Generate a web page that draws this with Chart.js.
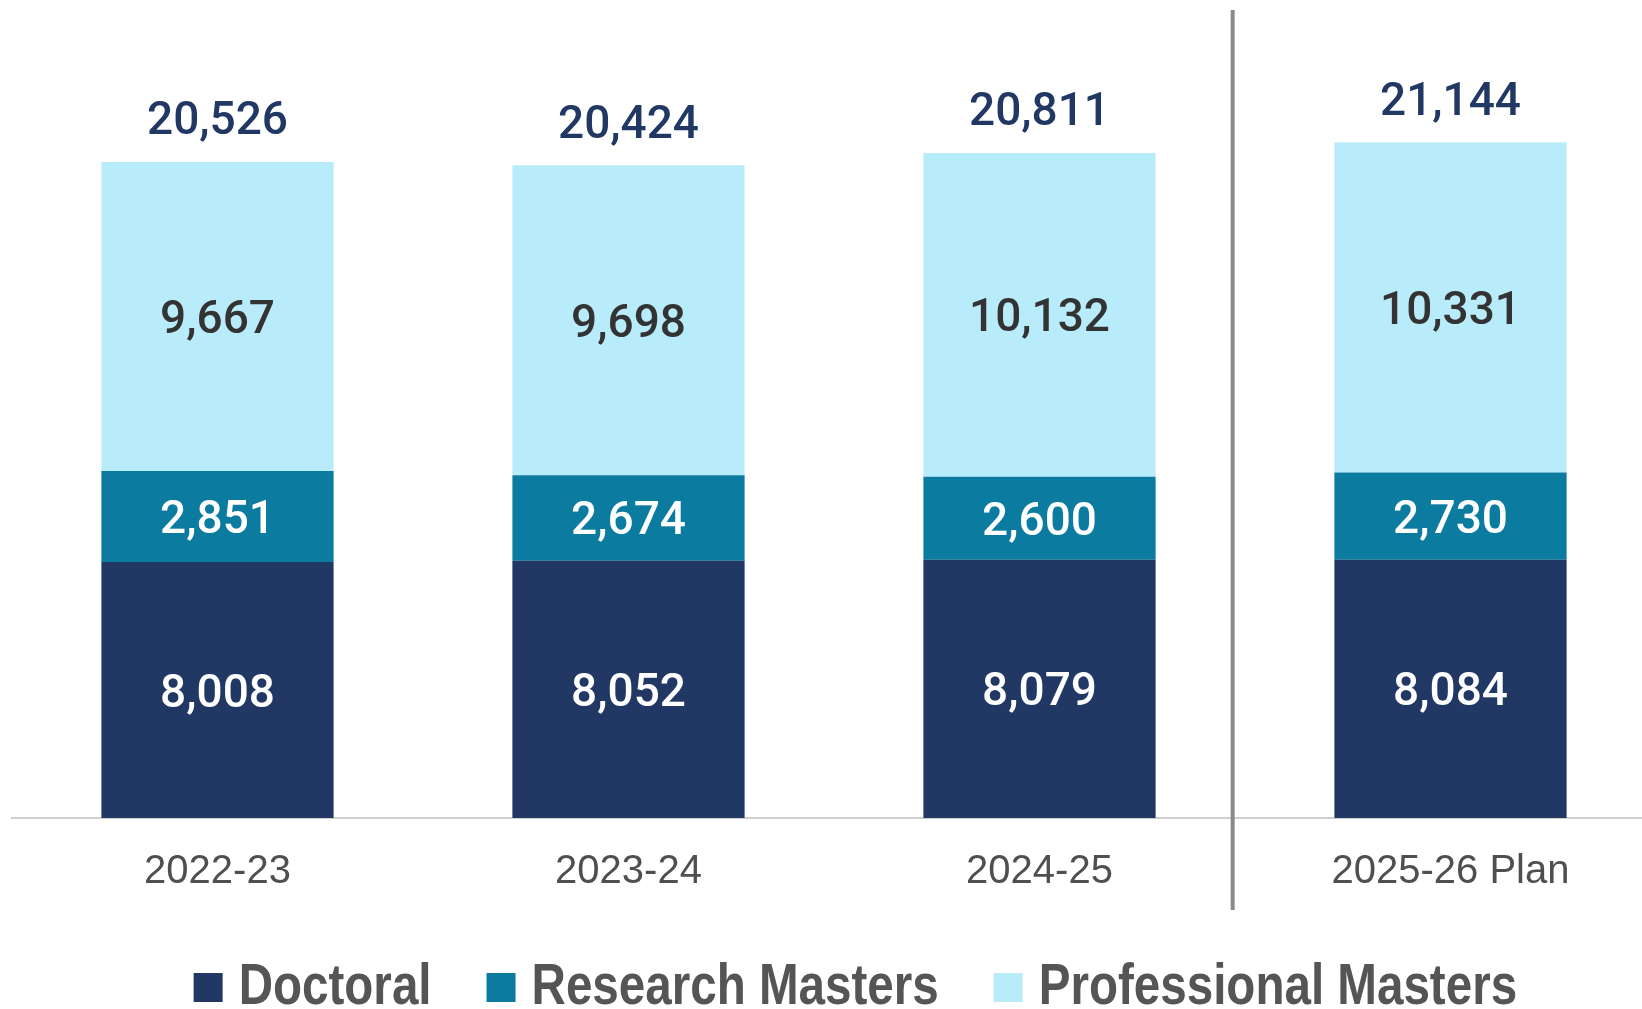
<!DOCTYPE html>
<html>
<head>
<meta charset="utf-8">
<script src="https://cdn.jsdelivr.net/npm/chart.js@4.4.1/dist/chart.umd.min.js"></script>
<style>
  html, body { margin: 0; padding: 0; background: #fff; overflow: hidden; }
  #wrap { width: 1660px; height: 1009px; }
</style>
</head>
<body>
<div id="wrap"><canvas id="chart" width="1660" height="1009"></canvas></div>
<script>
/* ── Data ─────────────────────────────────────────────────────── */
const categories          = ['2022-23', '2023-24', '2024-25', '2025-26 Plan'];
const doctoral            = [8008, 8052, 8079, 8084];
const researchMasters     = [2851, 2674, 2600, 2730];
const professionalMasters = [9667, 9698, 10132, 10331];
const totals              = [20526, 20424, 20811, 21144];

const NAVY  = '#213764';
const TEAL  = '#0b7b9f';
const SKY   = '#b9ecfb';
const fmt   = n => n.toLocaleString('en-US');

/* Value labels inside each segment + totals on top */
const valueLabels = {
  id: 'valueLabels',
  afterDatasetsDraw(chart) {
    const ctx = chart.ctx;
    const colors = ['#ffffff', '#ffffff', '#333333'];
    const nudge = 5;   // 'middle' baseline sits a bit high for digits
    ctx.save();
    ctx.textAlign = 'center';
    ctx.textBaseline = 'middle';
    ctx.font = '500 46px Roboto, "Liberation Sans", sans-serif';
    chart.data.datasets.forEach((ds, i) => {
      chart.getDatasetMeta(i).data.forEach((bar, j) => {
        ctx.fillStyle = colors[i];
        ctx.fillText(fmt(ds.data[j]), bar.x, (bar.y + bar.base) / 2 + nudge);
      });
    });
    const top = chart.getDatasetMeta(chart.data.datasets.length - 1).data;
    ctx.fillStyle = NAVY;
    top.forEach((bar, j) => ctx.fillText(fmt(totals[j]), bar.x, bar.y - 39));
    ctx.restore();
  }
};

/* Grey divider between actuals and the plan year */
const planDivider = {
  id: 'planDivider',
  beforeDatasetsDraw(chart) {
    const x = chart.scales.x.getPixelForDecimal(0.7425);
    const ctx = chart.ctx;
    ctx.save();
    ctx.strokeStyle = '#8a8a8a';
    ctx.lineWidth = 4;
    ctx.beginPath();
    ctx.moveTo(x, 10);
    ctx.lineTo(x, 910);
    ctx.stroke();
    ctx.restore();
  }
};

/* Narrow bold legend (Arial Narrow look: bold sans squeezed horizontally) */
const narrowLegend = {
  id: 'narrowLegend',
  afterDraw(chart) {
    const ctx = chart.ctx;
    const squeeze = 0.82, box = 29, gapBox = 16, gapItem = 55, baseY = 1004;
    ctx.save();
    ctx.font = 'bold 58px "Liberation Sans", Arial, sans-serif';
    const items = chart.data.datasets.map(ds => ({
      text: ds.label, color: ds.backgroundColor,
      w: ctx.measureText(ds.label).width * squeeze,
    }));
    const total = items.reduce((s, it) => s + box + gapBox + it.w, 0) + gapItem * (items.length - 1);
    const area = chart.chartArea;
    let x = area.left + area.width * 0.513 - total / 2;
    items.forEach(it => {
      ctx.fillStyle = it.color;
      ctx.fillRect(x, baseY - 31, box, box);
      x += box + gapBox;
      ctx.save();
      ctx.translate(x, baseY);
      ctx.scale(squeeze, 1);
      ctx.fillStyle = '#555555';
      ctx.textBaseline = 'alphabetic';
      ctx.fillText(it.text, 0, 0);
      ctx.restore();
      x += it.w + gapItem;
    });
    ctx.restore();
  }
};

new Chart(document.getElementById('chart'), {
  type: 'bar',
  data: {
    labels: categories,
    datasets: [
      { label: 'Doctoral',             data: doctoral,            backgroundColor: NAVY },
      { label: 'Research Masters',     data: researchMasters,     backgroundColor: TEAL },
      { label: 'Professional Masters', data: professionalMasters, backgroundColor: SKY  },
    ],
  },
  options: {
    responsive: false,
    animation: false,
    devicePixelRatio: 1,
    layout: { padding: { top: 19, left: 12, right: 4, bottom: 83 } },
    datasets: { bar: { categoryPercentage: 1, barPercentage: 0.565 } },
    plugins: {
      tooltip: { enabled: false },
      legend: { display: false },
    },
    scales: {
      x: {
        stacked: true,
        grid: { display: false, drawTicks: false },
        border: { color: '#cfcfcf', width: 2 },
        ticks: {
          color: '#4f4f4f',
          padding: 30,
          font: { family: '"Liberation Sans", Arial, sans-serif', size: 40 },
        },
      },
      y: {
        stacked: true,
        display: false,
        min: 0,
        max: 25000,
      },
    },
  },
  plugins: [valueLabels, planDivider, narrowLegend],
});
</script>
</body>
</html>
